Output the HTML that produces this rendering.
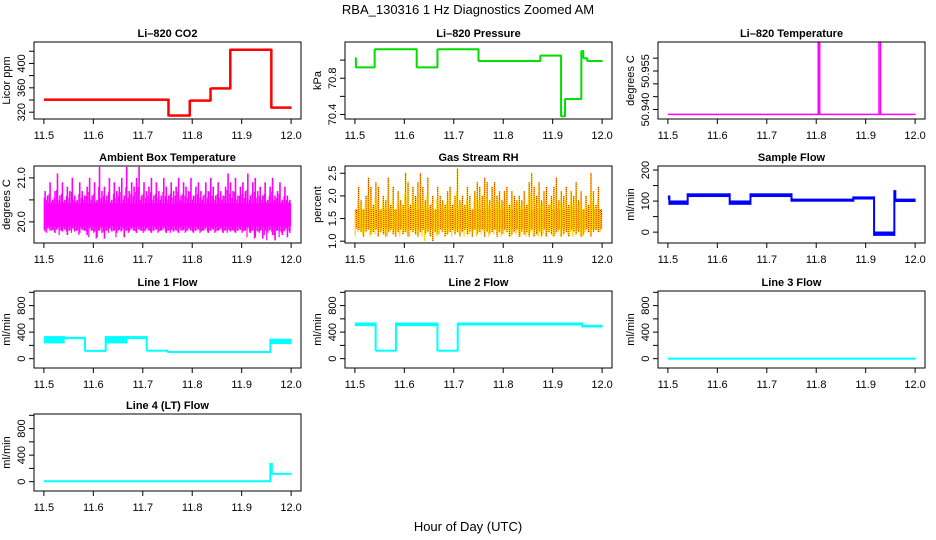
<!DOCTYPE html>
<html><head><meta charset="utf-8"><style>
html,body{margin:0;padding:0;background:#fff;}
svg{display:block;font-family:"Liberation Sans",Arial,sans-serif;}
</style></head><body>
<svg id="chart" width="936" height="540" viewBox="0 0 936 540" xmlns="http://www.w3.org/2000/svg">
<defs>
<pattern id="rhpat" width="2" height="2" patternUnits="userSpaceOnUse">
<rect width="2" height="2" fill="#ffd700"/><rect width="1" height="1" fill="#e00000"/><rect x="1" y="1" width="1" height="1" fill="#e00000"/>
</pattern>
</defs>
<text x="468" y="14" font-size="13" text-anchor="middle">RBA_130316  1 Hz Diagnostics Zoomed AM</text>
<text x="468" y="531" font-size="13" text-anchor="middle">Hour of Day (UTC)</text>
</svg>
<script>
const xTicks = [11.5, 11.6, 11.7, 11.8, 11.9, 12.0];
const xTickLabels = ["11.5", "11.6", "11.7", "11.8", "11.9", "12.0"];

// step series: boundaries, lows, highs
const co2Times = [11.5, 11.752, 11.795, 11.837, 11.877, 11.96, 12.0];
const co2Lo = [339, 313, 338, 358, 421, 326];
const co2Hi = [342, 316, 340, 360, 424, 329];

const presTimes = [11.5, 11.502, 11.54, 11.625, 11.667, 11.75, 11.875, 11.917, 11.925, 11.958, 11.962, 11.97, 12.0];
const presVals = [71.02, 70.92, 71.12, 70.92, 71.12, 70.99, 71.05, 70.38, 70.57, 71.1, 71.02, 70.99];

const tempTimes = [11.5, 11.804, 11.807, 11.927, 11.93, 12.0];
const tempVals = [50.9381, 50.975, 50.9381, 50.975, 50.9381];

const sampleTimes = [11.5, 11.503, 11.54, 11.625, 11.667, 11.75, 11.875, 11.917, 11.958, 11.96, 12.0];
const sampleLo = [105, 88, 113, 88, 113, 98, 105, -12, 100, 97];
const sampleHi = [118, 102, 125, 102, 125, 108, 115, 2, 135, 108];

const line1Times = [11.5, 11.54, 11.583, 11.625, 11.667, 11.708, 11.75, 11.958, 12.0];
const line1Lo = [230, 295, 110, 230, 295, 115, 95, 220];
const line1Hi = [340, 330, 125, 340, 340, 125, 105, 300];

const line2Times = [11.5, 11.542, 11.583, 11.667, 11.708, 11.96, 12.0];
const line2Lo = [490, 115, 490, 115, 500, 470];
const line2Hi = [545, 125, 545, 125, 545, 510];

const line3Times = [11.5, 12.0];
const line3Lo = [-6];
const line3Hi = [6];

const line4Times = [11.5, 11.958, 11.961, 12.0];
const line4Lo = [0, 120, 110];
const line4Hi = [12, 280, 125];

// noisy series: per-bin high / low, plus dense core band
const ambientHi = [20.7,20.6,20.9,20.5,20.7,21.1,20.6,20.9,20.5,20.8,20.7,21.0,20.6,20.5,20.9,20.7,20.6,20.8,21.0,20.6,20.9,20.5,21.25,20.7,20.8,20.6,21.0,20.5,20.9,20.7,20.8,21.0,20.6,21.25,20.7,20.9,20.8,21.0,21.25,20.6,20.9,20.7,20.8,21.0,20.6,20.9,20.7,20.6,21.0,20.8,20.6,20.9,20.7,20.8,21.0,20.6,20.9,20.8,20.7,21.0,20.6,20.8,20.9,20.7,20.6,20.9,20.7,21.0,20.8,20.6,20.9,20.7,20.6,20.8,21.1,20.9,20.7,21.0,20.6,20.8,20.9,20.7,21.1,20.6,20.9,21.0,20.7,20.8,20.6,20.9,20.5,20.8,21.0,20.6,20.7,20.9,20.5,20.8,20.6,20.5];
const ambientLo = [19.78,19.85,19.8,19.82,19.75,19.85,19.8,19.78,19.82,19.7,19.8,19.85,19.78,19.8,19.75,19.82,19.8,19.7,19.85,19.8,19.78,19.65,19.8,19.75,19.62,19.8,19.85,19.78,19.8,19.75,19.82,19.8,19.65,19.8,19.78,19.85,19.8,19.75,19.82,19.8,19.78,19.85,19.8,19.75,19.8,19.82,19.78,19.8,19.85,19.75,19.8,19.82,19.78,19.8,19.75,19.8,19.82,19.78,19.85,19.8,19.75,19.8,19.82,19.78,19.8,19.85,19.75,19.8,19.82,19.78,19.8,19.85,19.75,19.8,19.82,19.78,19.8,19.75,19.8,19.82,19.78,19.8,19.85,19.75,19.8,19.65,19.78,19.8,19.62,19.8,19.75,19.82,19.7,19.58,19.8,19.78,19.7,19.8,19.65,19.75];
const ambientCore = [19.9, 20.42];

const rhHi = [1.6,2.2,1.9,1.7,2.0,2.4,2.2,1.8,2.3,2.2,1.7,2.0,1.9,2.4,1.8,2.2,1.7,2.1,1.9,1.8,2.5,2.3,1.8,2.2,2.0,2.3,2.5,2.2,1.9,2.4,1.8,2.0,1.7,2.2,2.0,1.9,1.8,2.1,2.2,1.8,2.0,2.6,1.9,2.0,1.8,2.2,2.0,1.7,2.1,2.3,2.2,2.0,2.4,2.3,1.9,2.2,2.3,2.0,2.1,1.9,2.1,2.2,1.8,2.1,2.0,1.9,2.0,1.9,2.1,1.8,2.3,2.5,2.2,2.0,2.3,1.9,2.1,2.2,1.8,2.0,2.2,2.4,1.9,2.1,2.0,2.2,1.8,2.1,2.0,2.3,1.9,2.1,1.7,2.0,1.8,2.5,2.1,1.8,2.2,1.6];
const rhLo = [1.3,1.25,1.2,1.1,1.2,1.25,1.15,1.2,1.25,1.1,1.2,1.15,1.1,1.2,1.25,1.15,1.1,1.2,1.25,1.15,1.2,1.1,1.25,1.2,1.15,1.1,1.2,1.25,1.15,1.2,1.1,1.0,1.2,1.15,1.25,1.2,1.1,1.15,1.2,1.25,1.15,1.2,1.1,1.2,1.25,1.15,1.2,1.1,1.25,1.15,1.2,1.25,1.1,1.2,1.15,1.2,1.25,1.1,1.2,1.15,1.25,1.2,1.1,1.15,1.2,1.25,1.1,1.2,1.15,1.2,1.1,1.25,1.1,1.15,1.2,1.1,1.25,1.1,1.2,1.15,1.1,1.2,1.25,1.1,1.15,1.2,1.1,1.25,1.2,1.15,1.2,1.1,1.15,1.25,1.2,1.1,1.2,1.25,1.2,1.25];
const rhCore = [1.28, 1.7];

const svg = document.getElementById('chart');
const NS = 'http://www.w3.org/2000/svg';
const colL = [34, 345, 658], W = 267;
const rowT = [42, 166, 291, 414], H = 77;

function mk(tag, attrs, parent) {
  const e = document.createElementNS(NS, tag);
  for (const k in attrs) e.setAttribute(k, attrs[k]);
  (parent || svg).appendChild(e);
  return e;
}

function panel(cfg) {
  const L = colL[cfg.col], T = rowT[cfg.row];
  const xs = t => L + (t - 11.48) / 0.54 * W;
  const ys = v => T + (cfg.ymax - v) / (cfg.ymax - cfg.ymin) * H;
  const g = mk('g', {});
  
  
  const clipId = 'clip-' + cfg.name;
  const cp = mk('clipPath', { id: clipId }, g);
  mk('rect', { x: L, y: T, width: W, height: H }, cp);
  const plot = mk('g', { 'clip-path': 'url(#' + clipId + ')' }, g);
  
  
  cfg.draw(plot, xs, ys);
  const box = mk('rect', { x: L, y: T, width: W, height: H, fill: 'none', stroke: '#000', 'stroke-width': 1 }, g);
  
  
  const title = mk('text', { x: L + W / 2, y: T - 5, 'font-size': 11, 'font-weight': 'bold', 'text-anchor': 'middle' }, g);
  
  
  title.textContent = cfg.title;
  // x axis
  const xb = T + H;
  const xa = mk('line', { x1: xs(11.5), x2: xs(12.0), y1: xb, y2: xb, stroke: '#000' }, g);
  
  
  xTicks.forEach((t, i) => {
    mk('line', { x1: xs(t), x2: xs(t), y1: xb, y2: xb + 5, stroke: '#000' }, g);
    const tl = mk('text', { x: xs(t), y: xb + 20, 'font-size': 11, 'text-anchor': 'middle' }, g);
    
    
    tl.textContent = xTickLabels[i];
  });
  // y axis
  const yt = cfg.yticks;
  const ya = mk('line', { x1: L, x2: L, y1: ys(yt[0]), y2: ys(yt[yt.length - 1]), stroke: '#000' }, g);
  
  
  yt.forEach(v => mk('line', { x1: L - 5, x2: L, y1: ys(v), y2: ys(v), stroke: '#000' }, g));
  cfg.ylabels.forEach((lab, i) => {
    const yy = ys(cfg.ylabelVals[i]);
    const tl = mk('text', { x: L - 9, y: yy, 'font-size': 11, 'text-anchor': 'middle', transform: 'rotate(-90 ' + (L - 9) + ' ' + yy + ')' }, g);
    
    
    tl.textContent = lab;
  });
  const cy = T + H / 2;
  const yl = mk('text', { x: L - 24, y: cy, 'font-size': 11, 'text-anchor': 'middle', transform: 'rotate(-90 ' + (L - 24) + ' ' + cy + ')' }, g);
  
  
  yl.textContent = cfg.ylab;
}

function steps(times, lo, hi, color, lw) {
  return (p, xs, ys) => {
    for (let i = 0; i < lo.length; i++) {
      const y1 = ys(hi[i]), y2 = ys(lo[i]);
      const h = Math.max(y2 - y1, lw);
      const r = mk('rect', { x: xs(times[i]), y: (y1 + y2) / 2 - h / 2, width: xs(times[i + 1]) - xs(times[i]) + 0.5, height: h, fill: color }, p);
      
      
      if (i > 0) {
        const a = Math.min(ys(hi[i - 1]), y1), b = Math.max(ys(lo[i - 1]), y2);
        mk('line', { x1: xs(times[i]), x2: xs(times[i]), y1: a, y2: b, stroke: color, 'stroke-width': lw }, p);
      }
    }
  };
}
function noisy(hiArr, loArr, core, color, fill, dotted) {
  return (p, xs, ys) => {
    const n = hiArr.length;
    const c = mk('rect', { x: xs(11.5), y: ys(core[1]), width: xs(12.0) - xs(11.5), height: ys(core[0]) - ys(core[1]), fill: fill }, p);
    
    
    for (let i = 0; i < n; i++) {
      const t = 11.5 + (i + 0.5) / n * 0.5;
      const l = mk('line', { x1: xs(t), x2: xs(t), y1: ys(hiArr[i]), y2: ys(loArr[i]), stroke: color, 'stroke-width': 1.6 }, p);
      
      
      if (dotted) mk('line', { x1: xs(t), x2: xs(t), y1: ys(hiArr[i]), y2: ys(loArr[i]), stroke: '#e00000', 'stroke-width': 1, 'stroke-dasharray': '1,1' }, p);
      const t2 = 11.5 + (i + 0.15) / n * 0.5;
      mk('line', { x1: xs(t2), x2: xs(t2), y1: ys(core[1] + (hiArr[i] - core[1]) * 0.45), y2: ys(loArr[(i + 3) % n]), stroke: color, 'stroke-width': 1.2 }, p);
    }
  };
}
const flowTicks = [0, 200, 400, 600, 800, 1000];
const flowLabs = ['0', '400', '800'], flowLabVals = [0, 400, 800];
const presLo = presVals.map(v => v - 0.004), presHi = presVals.map(v => v + 0.004);
const tempLo = tempVals.map(v => v - 0.0002), tempHi = tempVals.map(v => v + 0.0002);

panel({ name: 'co2', title: 'Li\u2013820 CO2', col: 0, row: 0, ymin: 308.8, ymax: 435.2, yticks: [320, 340, 360, 380, 400, 420], ylabels: ['320', '360', '400'], ylabelVals: [320, 360, 400], ylab: 'Licor ppm', draw: steps(co2Times, co2Lo, co2Hi, '#ff0000', 2.5) });
panel({ name: 'pressure', title: 'Li\u2013820 Pressure', col: 1, row: 0, ymin: 70.35, ymax: 71.2, yticks: [70.4, 70.6, 70.8, 71.0], ylabels: ['70.4', '70.8'], ylabelVals: [70.4, 70.8], ylab: 'kPa', draw: (p, xs, ys) => { steps(presTimes, presLo, presHi, '#00dd00', 2)(p, xs, ys); steps(presTimes, presVals.map(v => v - 0.001), presVals.map(v => v + 0.001), 'rgba(0,0,0,0.0)', 0.1)(p, xs, ys); } });
panel({ name: 'li820-temperature', title: 'Li\u2013820 Temperature', col: 2, row: 0, ymin: 50.9363, ymax: 50.9663, yticks: [50.940, 50.945, 50.950, 50.955, 50.960], ylabels: ['50.940', '50.955'], ylabelVals: [50.940, 50.955], ylab: 'degrees C', draw: steps(tempTimes, tempLo, tempHi, '#ff00ff', 1.5) });
panel({ name: 'ambient-temperature', title: 'Ambient Box Temperature', col: 0, row: 1, ymin: 19.52, ymax: 21.27, yticks: [20.0, 20.5, 21.0], ylabels: ['20.0', '21.0'], ylabelVals: [20.0, 21.0], ylab: 'degrees C', draw: noisy(ambientHi, ambientLo, ambientCore, '#ff00ff', '#ff00ff', false) });
panel({ name: 'gas-stream-rh', title: 'Gas Stream RH', col: 1, row: 1, ymin: 0.96, ymax: 2.66, yticks: [1.0, 1.5, 2.0, 2.5], ylabels: ['1.0', '1.5', '2.0', '2.5'], ylabelVals: [1.0, 1.5, 2.0, 2.5], ylab: 'percent', draw: noisy(rhHi, rhLo, rhCore, '#ffd700', 'url(#rhpat)', true) });
panel({ name: 'sample-flow', title: 'Sample Flow', col: 2, row: 1, ymin: -35, ymax: 213, yticks: [0, 50, 100, 150, 200], ylabels: ['0', '100', '200'], ylabelVals: [0, 100, 200], ylab: 'ml/min', draw: steps(sampleTimes, sampleLo, sampleHi, '#0000ff', 2) });
panel({ name: 'line1-flow', title: 'Line 1 Flow', col: 0, row: 2, ymin: -141, ymax: 1020, yticks: flowTicks, ylabels: flowLabs, ylabelVals: flowLabVals, ylab: 'ml/min', draw: steps(line1Times, line1Lo, line1Hi, '#00ffff', 2) });
panel({ name: 'line2-flow', title: 'Line 2 Flow', col: 1, row: 2, ymin: -141, ymax: 1020, yticks: flowTicks, ylabels: flowLabs, ylabelVals: flowLabVals, ylab: 'ml/min', draw: steps(line2Times, line2Lo, line2Hi, '#00ffff', 2) });
panel({ name: 'line3-flow', title: 'Line 3 Flow', col: 2, row: 2, ymin: -141, ymax: 1020, yticks: flowTicks, ylabels: flowLabs, ylabelVals: flowLabVals, ylab: 'ml/min', draw: steps(line3Times, line3Lo, line3Hi, '#00ffff', 2) });
panel({ name: 'line4-flow', title: 'Line 4 (LT) Flow', col: 0, row: 3, ymin: -141, ymax: 1020, yticks: flowTicks, ylabels: flowLabs, ylabelVals: flowLabVals, ylab: 'ml/min', draw: steps(line4Times, line4Lo, line4Hi, '#00ffff', 2) });
</script>
</body></html>
